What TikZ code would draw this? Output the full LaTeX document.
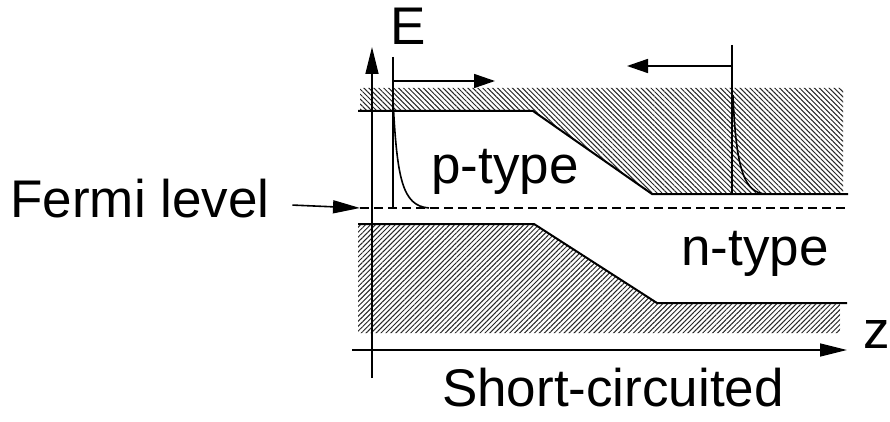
\documentclass[tikz,border=0pt]{standalone}
\usepackage{fontspec}
\setmainfont{Liberation Sans}
\usetikzlibrary{arrows.meta,patterns.meta}

\begin{document}
\begin{tikzpicture}[x=1pt,y=-1pt,line width=1.6pt,
    lbl/.style={anchor=base,inner sep=0pt,font=\fontsize{53}{60}\selectfont},
    band/.style={line width=2pt},
    hatchcb/.style={pattern={Lines[angle=-45,distance=3.5pt,line width=1pt]},pattern color=black!85},
    hatchvb/.style={pattern={Lines[angle=45,distance=3.5pt,line width=1pt]},pattern color=black!85},
    bigtip/.style={-{Triangle[length=27pt,width=13pt]}},
    smalltip/.style={-{Triangle[length=21pt,width=14pt]}}]
  \useasboundingbox (0,0) rectangle (890,422);

  % hatched bands
  \fill[hatchcb] (360,88) -- (843,88) -- (843,194) -- (652,194) -- (533,111) -- (360,111) -- cycle;
  \fill[hatchvb] (358,224) -- (534,224) -- (657,303) -- (840,303) -- (840,333) -- (358,333) -- cycle;

  % band edges
  \draw[band] (358,111) -- (533,111) -- (652,194) -- (848,194);
  \draw[band] (358,224) -- (534,224) -- (657,303) -- (847,303);

  % fermi level
  \coordinate (efl) at (360,208);
  \coordinate (efr) at (845,208);
  \draw[dash pattern=on 9pt off 5pt] (efl) -- (efr);

  % axes
  \coordinate (ybot) at (372,378);
  \coordinate (ytop) at (372,47);
  \coordinate (xleft) at (352,350);
  \coordinate (xright) at (847,350);
  \draw[bigtip] (ybot) -- (ytop);
  \draw[bigtip] (xleft) -- (xright);

  % carriers on p side
  \coordinate (pt) at (393,57);
  \coordinate (pb) at (393,208);
  \coordinate (pa) at (393,81);
  \coordinate (pae) at (495,81);
  \draw (pt) -- (pb);
  \draw[smalltip] (pa) -- (pae);
  \draw (393,100) .. controls (397,178) and (402,206) .. (429,208);

  % carriers on n side
  \coordinate (nt) at (732,45);
  \coordinate (nb) at (732,194);
  \coordinate (na) at (732,66);
  \coordinate (nae) at (627,66);
  \draw (nt) -- (nb);
  \draw[smalltip] (na) -- (nae);
  \draw (733,95) .. controls (736,172) and (745,193) .. (766,194);

  % labels
  \node[lbl] (elabel) at (408,45) {E};
  \node[lbl] (zlabel) at (877,348) {z};
  \node[lbl] (ptype) at (505,183) {p-type};
  \node[lbl] (ntype) at (755,265) {n-type};
  \node[lbl] (fermi) at (140,217) {Fermi level};
  \node[lbl] (short) at (613,406) {Short-circuited};
  \draw[bigtip] ([xshift=22pt,yshift=-7pt]fermi.east) -- (efl);
\end{tikzpicture}
\end{document}
